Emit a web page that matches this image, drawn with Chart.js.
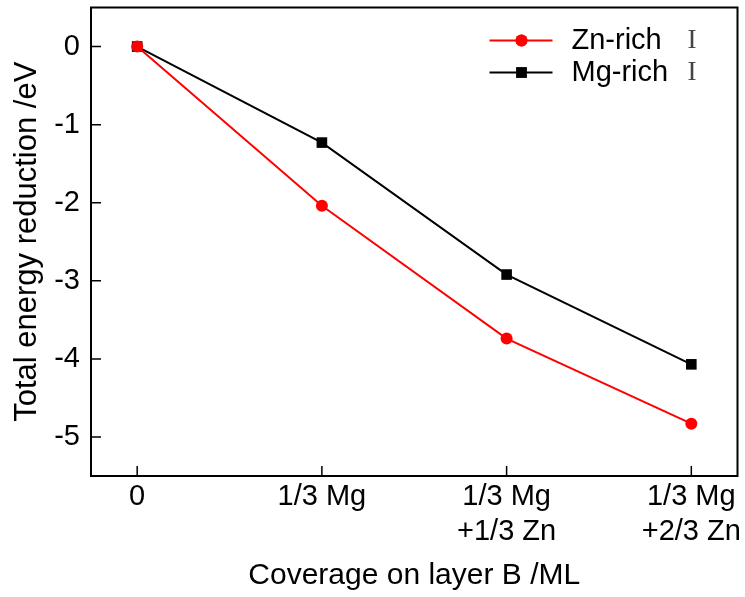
<!DOCTYPE html>
<html>
<head>
    <title>Total energy reduction</title>
    <script src="https://cdn.jsdelivr.net/npm/chart.js"></script>
    <style>
        html, body { margin: 0; padding: 0; background: #fff; }
        #wrap { width: 745px; height: 597px; }
    </style>
</head>
<body>
    <div id="wrap"><canvas id="energyChart" width="745" height="597"></canvas></div>

    <script>
        // coverage steps (x index) and their tick labels
        const coverage = [0, 1, 2, 3];
        const coverageLabels = [['0'], ['1/3 Mg'], ['1/3 Mg', '+1/3 Zn'], ['1/3 Mg', '+2/3 Zn']];

        // total energy reduction /eV
        const znRich = [0, -2.04, -3.74, -4.83];
        const mgRich = [0, -1.23, -2.92, -4.07];

        const seriesNames = ['Zn-rich', 'Mg-rich'];
        const seriesSuffix = 'I';

        const yTicks = [-5.5, -5, -4.5, -4, -3.5, -3, -2.5, -2, -1.5, -1, -0.5, 0, 0.5];

        const FONT = "'Liberation Sans', Arial, sans-serif";

        function toPoints(values) {
            return values.map((v, i) => ({ x: coverage[i], y: v }));
        }

        // frame + inward tick marks
        const framePlugin = {
            id: 'frame',
            afterDraw(chart) {
                const ctx = chart.ctx;
                const a = chart.chartArea;
                const xs = chart.scales.x;
                const ys = chart.scales.y;
                ctx.save();
                ctx.strokeStyle = '#000';
                ctx.lineWidth = 2;
                ctx.strokeRect(a.left, a.top, a.right - a.left, a.bottom - a.top);

                ctx.lineWidth = 1.5;
                ctx.beginPath();
                xs.ticks.forEach(t => {
                    const px = xs.getPixelForValue(t.value);
                    ctx.moveTo(px, a.bottom);
                    ctx.lineTo(px, a.bottom - 10);
                });
                ys.ticks.forEach(t => {
                    const py = ys.getPixelForValue(t.value);
                    if (py <= a.top + 1 || py >= a.bottom - 1) return;
                    const len = Number.isInteger(t.value) ? 10 : 6;
                    ctx.moveTo(a.left, py);
                    ctx.lineTo(a.left + len, py);
                });
                ctx.stroke();
                ctx.restore();
            }
        };

        // legend with line + marker samples
        const legendPlugin = {
            id: 'lineLegend',
            afterDraw(chart) {
                const ctx = chart.ctx;
                const a = chart.chartArea;
                const x0 = a.right - 248;
                const rows = [a.top + 33, a.top + 65];
                ctx.save();
                chart.data.datasets.forEach((ds, i) => {
                    const y = rows[i];
                    ctx.strokeStyle = ds.borderColor;
                    ctx.lineWidth = ds.borderWidth;
                    ctx.beginPath();
                    ctx.moveTo(x0, y);
                    ctx.lineTo(x0 + 63, y);
                    ctx.stroke();
                    Chart.helpers.drawPoint(ctx, {
                        pointStyle: ds.pointStyle,
                        radius: ds.pointRadius,
                        borderWidth: 0
                    }, x0 + 32, y);
                    ctx.fillStyle = ds.pointBackgroundColor;
                    ctx.fill();

                    ctx.fillStyle = '#000';
                    ctx.font = '29px ' + FONT;
                    ctx.textBaseline = 'middle';
                    ctx.textAlign = 'left';
                    ctx.fillText(seriesNames[i], x0 + 82, y);
                    ctx.fillStyle = '#444';
                    ctx.font = "27px 'Liberation Serif', 'Times New Roman', serif";
                    ctx.fillText(seriesSuffix, x0 + 198, y);
                });
                ctx.restore();
            }
        };

        const chart = new Chart(document.getElementById('energyChart'), {
            type: 'line',
            data: {
                datasets: [{
                    label: seriesNames[0],
                    data: toPoints(znRich),
                    borderColor: '#ff0000',
                    backgroundColor: '#ff0000',
                    pointBackgroundColor: '#ff0000',
                    pointBorderWidth: 0,
                    pointStyle: 'circle',
                    pointRadius: 6,
                    borderWidth: 2,
                    tension: 0
                }, {
                    label: seriesNames[1],
                    data: toPoints(mgRich),
                    borderColor: '#000000',
                    backgroundColor: '#000000',
                    pointBackgroundColor: '#000000',
                    pointBorderWidth: 0,
                    pointStyle: 'rect',
                    pointRadius: 7.5,
                    borderWidth: 2,
                    tension: 0
                }]
            },
            options: {
                responsive: false,
                animation: false,
                clip: false,
                layout: { padding: { top: 6, right: 7, left: 0, bottom: 0 } },
                plugins: {
                    legend: { display: false },
                    tooltip: { enabled: false }
                },
                scales: {
                    x: {
                        type: 'linear',
                        min: -0.25,
                        max: 3.25,
                        grid: { display: false, drawTicks: false },
                        border: { display: false },
                        afterBuildTicks: s => { s.ticks = coverage.map(v => ({ value: v })); },
                        afterFit: s => { s.height = 121; s.paddingLeft = 0; s.paddingRight = 0; },
                        ticks: {
                            color: '#000',
                            font: { family: FONT, size: 29, lineHeight: 1.2 },
                            padding: 4,
                            maxRotation: 0,
                            autoSkip: false,
                            callback: v => coverageLabels[coverage.indexOf(v)] || null
                        },
                        title: {
                            display: true,
                            text: 'Coverage on layer B /ML',
                            color: '#000',
                            font: { family: FONT, size: 30 },
                            padding: { top: 0, bottom: 3 }
                        }
                    },
                    y: {
                        min: -5.5,
                        max: 0.5,
                        grid: { display: false, drawTicks: false },
                        border: { display: false },
                        afterBuildTicks: s => { s.ticks = yTicks.map(v => ({ value: v })); },
                        afterFit: s => { s.width = 91; s.paddingTop = 0; s.paddingBottom = 0; },
                        ticks: {
                            color: '#000',
                            font: { family: FONT, size: 29 },
                            padding: 11,
                            autoSkip: false,
                            callback: v => (Number.isInteger(v) && v <= 0 && v >= -5) ? String(v) : null
                        },
                        title: {
                            display: true,
                            text: 'Total energy reduction /eV',
                            color: '#000',
                            font: { family: FONT, size: 31 },
                            padding: { top: 9, bottom: 0 }
                        }
                    }
                }
            },
            plugins: [framePlugin, legendPlugin]
        });
    </script>
</body>
</html>
